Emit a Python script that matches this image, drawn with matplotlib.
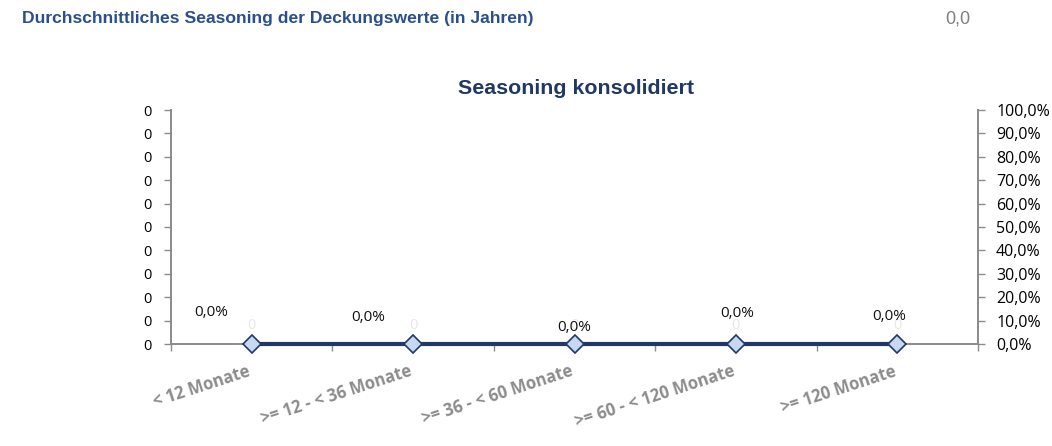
import numpy as np
import matplotlib.pyplot as plt
from matplotlib.ticker import FuncFormatter, MultipleLocator

# Daten
categories = ['< 12 Monate', '>= 12 - < 36 Monate', '>= 36 - < 60 Monate',
              '>= 60 - < 120 Monate', '>= 120 Monate']
anzahl = [0, 0, 0, 0, 0]            # Primärachse (Anzahl)
anteil = [0.0, 0.0, 0.0, 0.0, 0.0]  # Sekundärachse (Anteil)
header_text = 'Durchschnittliches Seasoning der Deckungswerte (in Jahren)'
header_value = '0,0'
chart_title = 'Seasoning konsolidiert'

NAVY = '#1F3864'
HEAD_BLUE = '#2A4F8C'
AXIS_GRAY = '#8C8C8C'

plt.rcParams['font.family'] = ['Open Sans', 'DejaVu Sans']

fig = plt.figure(figsize=(10.52, 4.46), dpi=100)
ax = fig.add_axes([171 / 1052, 1 - 344 / 446, (978 - 171) / 1052, (344 - 110) / 446])
ax2 = ax.twinx()

x = np.arange(len(categories))

# Primärachse: Anzahl (Werte 0, Beschriftungen kaum sichtbar)
ax.set_xlim(-0.5, len(categories) - 0.5)
ax.set_ylim(0, 1)
ax.yaxis.set_major_locator(MultipleLocator(0.1))
ax.yaxis.set_major_formatter(FuncFormatter(lambda v, p: f'{v * 0:.0f}'))
for xi, v in zip(x, anzahl):
    ax.annotate(f'{v}', (xi, v), xytext=(0, 13), textcoords='offset points',
                ha='center', va='center', fontsize=10.5, color='#E8E8E8')

# Sekundärachse: Anteil als Linie
ax2.set_ylim(0, 1)
ax2.yaxis.set_major_locator(MultipleLocator(0.1))
ax2.yaxis.set_major_formatter(FuncFormatter(lambda v, p: f'{v * 100:.1f}%'.replace('.', ',')))
ax2.plot(x, anteil, color=NAVY, lw=3, marker='D', ms=9,
         mfc='#C6D9F1', mec=NAVY, mew=1.2, zorder=5, clip_on=False)

label_offsets = [(-29.5, 23), (-32, 19), (0, 12), (1, 22), (-6, 20)]
for xi, v, off in zip(x, anteil, label_offsets):
    ax2.annotate(f'{v * 100:.1f}%'.replace('.', ','), (xi, v), xytext=off,
                 textcoords='offset points', ha='center', va='center',
                 fontsize=11, color='#111111')

# Achsen-Stil
for a in (ax, ax2):
    a.spines['top'].set_visible(False)
    for s in ('left', 'right', 'bottom'):
        a.spines[s].set_color(AXIS_GRAY)
        a.spines[s].set_linewidth(1.3)
    a.tick_params(axis='y', length=5, width=1, color=AXIS_GRAY,
                  labelcolor='#000000')
ax.tick_params(axis='y', pad=9, labelsize=10.5)
ax2.tick_params(axis='y', pad=8, labelsize=11.5)

ax.set_xticks(np.arange(-0.5, len(categories), 1.0))
ax.set_xticklabels([])
ax.tick_params(axis='x', length=5, width=1, color=AXIS_GRAY, direction='out')
ax2.tick_params(axis='x', length=0)

for xi, lab in zip(x, categories):
    ax.text(xi - 0.01, -0.115, lab, transform=ax.get_xaxis_transform(),
            rotation=18, rotation_mode='anchor', ha='right', va='center',
            fontsize=12, fontweight='bold', color='#8C8C8C')

fig.text(576 / 1052, 1 - 89 / 446, chart_title, fontsize=15.4, fontweight='bold',
         color=NAVY, family='Liberation Sans', ha='center', va='center')

fig.text(22 / 1052, 1 - 19 / 446, header_text, fontsize=12.6, fontweight='bold',
         color=HEAD_BLUE, family='Liberation Sans', va='center', ha='left')
fig.text(970 / 1052, 1 - 19 / 446, header_value, fontsize=13,
         color='#7F7F7F', family='Liberation Sans', va='center', ha='right')

fig.savefig('out.png', dpi=100)
